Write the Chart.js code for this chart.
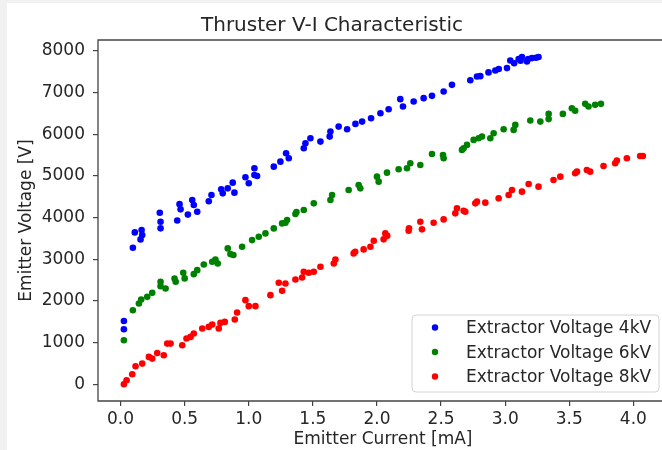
<!DOCTYPE html>
<html>
<head>
<meta charset="utf-8">
<script src="https://cdn.jsdelivr.net/npm/chart.js@4.4.1/dist/chart.umd.min.js"></script>
<style>
  html, body { margin: 0; padding: 0; width: 662px; height: 450px; overflow: hidden; background: #f1f1f1; }
  #panel { position: absolute; left: 7px; top: 3px; width: 655px; height: 447px; background: #fff; }
  #clip { position: absolute; left: 0; top: 0; width: 662px; height: 450px; overflow: hidden; }
  #thruster { position: absolute; left: 0; top: 0; }
</style>
</head>
<body>
<div id="panel"></div>
<div id="clip"><canvas id="thruster" width="680" height="450"></canvas></div>
<script>
// emitter current [mA] / emitter voltage [V] for each extractor setting
const current4kV = [0.026, 0.026, 0.096, 0.111, 0.156, 0.164, 0.169, 0.306, 0.312, 0.312, 0.442, 0.46, 0.468, 0.525, 0.559, 0.571, 0.598, 0.688, 0.709, 0.785, 0.797, 0.836, 0.875, 0.888, 0.974, 1.0, 1.044, 1.044, 1.065, 1.195, 1.247, 1.291, 1.312, 1.429, 1.442, 1.481, 1.559, 1.631, 1.637, 1.701, 1.767, 1.832, 1.884, 1.954, 2.027, 2.091, 2.182, 2.203, 2.286, 2.364, 2.429, 2.52, 2.585, 2.728, 2.78, 2.806, 2.87, 2.923, 2.95, 3.014, 3.04, 3.07, 3.105, 3.12, 3.131, 3.17, 3.18, 3.209, 3.24, 3.26];
const voltage4kV = [1520, 1320, 3274, 3643, 3475, 3700, 3579, 4115, 3899, 3740, 3930, 4320, 4196, 4070, 4420, 4300, 4140, 4390, 4540, 4676, 4580, 4700, 4836, 4596, 4965, 4820, 5181, 5020, 4996, 5220, 5340, 5541, 5421, 5661, 5781, 5901, 5820, 5940, 6060, 6180, 6117, 6245, 6300, 6381, 6502, 6598, 6838, 6661, 6781, 6862, 6918, 7022, 7182, 7290, 7382, 7390, 7480, 7526, 7560, 7583, 7766, 7700, 7800, 7760, 7850, 7742, 7800, 7823, 7830, 7850];

const current6kV = [0.026, 0.096, 0.143, 0.161, 0.208, 0.247, 0.312, 0.312, 0.351, 0.421, 0.43, 0.489, 0.5, 0.571, 0.598, 0.649, 0.715, 0.74, 0.758, 0.836, 0.857, 0.88, 0.948, 1.026, 1.078, 1.13, 1.195, 1.26, 1.286, 1.299, 1.364, 1.372, 1.429, 1.507, 1.637, 1.65, 1.779, 1.857, 1.87, 2.0, 2.013, 2.078, 2.169, 2.234, 2.26, 2.338, 2.429, 2.515, 2.52, 2.663, 2.676, 2.702, 2.754, 2.793, 2.819, 2.884, 2.91, 2.988, 3.066, 3.079, 3.196, 3.274, 3.339, 3.339, 3.45, 3.52, 3.546, 3.624, 3.65, 3.702, 3.747];
const voltage6kV = [1057, 1777, 1938, 2034, 2098, 2194, 2457, 2354, 2298, 2539, 2460, 2674, 2540, 2642, 2738, 2875, 2938, 2995, 2899, 3259, 3123, 3100, 3298, 3459, 3538, 3619, 3739, 3859, 3875, 3939, 4083, 4130, 4180, 4340, 4420, 4540, 4660, 4780, 4700, 4980, 4860, 5076, 5157, 5181, 5301, 5261, 5525, 5501, 5420, 5621, 5661, 5741, 5861, 5901, 5940, 5901, 6022, 6117, 6101, 6221, 6325, 6300, 6485, 6360, 6485, 6622, 6560, 6726, 6661, 6702, 6726];

const current8kV = [0.026, 0.047, 0.091, 0.117, 0.169, 0.221, 0.247, 0.286, 0.337, 0.364, 0.39, 0.481, 0.514, 0.546, 0.571, 0.637, 0.688, 0.715, 0.766, 0.779, 0.813, 0.891, 0.909, 0.974, 1.0, 1.052, 1.169, 1.234, 1.26, 1.286, 1.364, 1.416, 1.429, 1.468, 1.507, 1.559, 1.663, 1.676, 1.818, 1.83, 1.896, 1.949, 1.975, 2.052, 2.065, 2.08, 2.247, 2.25, 2.338, 2.351, 2.442, 2.52, 2.611, 2.624, 2.676, 2.689, 2.767, 2.78, 2.845, 2.949, 3.027, 3.053, 3.131, 3.183, 3.26, 3.377, 3.43, 3.546, 3.56, 3.637, 3.663, 3.767, 3.858, 3.871, 3.949, 4.053, 4.074];
const voltage8kV = [0, 96, 240, 432, 497, 657, 617, 752, 697, 977, 977, 937, 1097, 1137, 1217, 1338, 1377, 1433, 1338, 1473, 1497, 1553, 1722, 2018, 1874, 1874, 2138, 2434, 2242, 2418, 2514, 2562, 2698, 2674, 2698, 2818, 2899, 2995, 3139, 3180, 3235, 3298, 3442, 3476, 3619, 3560, 3682, 3740, 3899, 3716, 3875, 3955, 4100, 4220, 4163, 4139, 4340, 4380, 4356, 4460, 4540, 4660, 4620, 4805, 4740, 4900, 4980, 5060, 5100, 5141, 5100, 5237, 5301, 5365, 5421, 5477, 5477];

const seriesLabels = ['Extractor Voltage 4kV', 'Extractor Voltage 6kV', 'Extractor Voltage 8kV'];
const xTicks = [0, 0.5, 1.0, 1.5, 2.0, 2.5, 3.0, 3.5, 4.0];
const yTicks = [0, 1000, 2000, 3000, 4000, 5000, 6000, 7000, 8000];

const toPoints = (xs, ys) => xs.map((x, i) => ({ x: x, y: ys[i] }));

const FONT = 'DejaVu Sans';
const INK = '#262626';

// spines (right one runs off the page), title and the lower-right legend box
const decorations = {
    id: 'decorations',
    beforeDatasetsDraw(chart) {
        const { ctx, chartArea: a } = chart;
        ctx.save();
        ctx.strokeStyle = '#444';
        ctx.lineWidth = 1.3;
        ctx.beginPath();
        ctx.moveTo(chart.width, a.top);
        ctx.lineTo(a.left, a.top);
        ctx.lineTo(a.left, a.bottom);
        ctx.lineTo(chart.width, a.bottom);
        ctx.stroke();
        ctx.restore();
    },
    afterDraw(chart) {
        const ctx = chart.ctx;
        ctx.save();
        ctx.fillStyle = INK;
        ctx.font = '20px "' + FONT + '"';
        ctx.textAlign = 'center';
        ctx.textBaseline = 'alphabetic';
        ctx.fillText('Thruster V-I Characteristic', 332, 31);

        // legend
        const bx = 412, by = 315, bw = 247, bh = 77;
        ctx.beginPath();
        ctx.roundRect(bx, by, bw, bh, 4);
        ctx.fillStyle = 'rgba(255,255,255,0.85)';
        ctx.fill();
        ctx.strokeStyle = '#d4d4d4';
        ctx.lineWidth = 1;
        ctx.stroke();

        ctx.font = '17px "' + FONT + '"';
        ctx.textAlign = 'left';
        ctx.textBaseline = 'middle';
        chart.data.datasets.forEach((ds, i) => {
            const y = 328 + i * 24.5;
            ctx.beginPath();
            ctx.arc(435, y - 0.5, 3.2, 0, Math.PI * 2);
            ctx.fillStyle = ds.backgroundColor;
            ctx.fill();
            ctx.fillStyle = INK;
            ctx.fillText(ds.label, 466, y + 1);
        });
        ctx.restore();
    }
};

const ctx = document.getElementById('thruster');

new Chart(ctx, {
    type: 'scatter',
    data: {
        datasets: [{
            label: seriesLabels[0],
            data: toPoints(current4kV, voltage4kV),
            backgroundColor: '#0000ff'
        }, {
            label: seriesLabels[1],
            data: toPoints(current6kV, voltage6kV),
            backgroundColor: '#008000'
        }, {
            label: seriesLabels[2],
            data: toPoints(current8kV, voltage8kV),
            backgroundColor: '#ff0000'
        }]
    },
    options: {
        responsive: false,
        animation: false,
        devicePixelRatio: 1,
        layout: { padding: { left: 0, top: 40, right: 12, bottom: 0 } },
        elements: { point: { radius: 3.3, borderWidth: 0, hoverRadius: 3.3 } },
        plugins: {
            legend: { display: false },
            title: { display: false },
            tooltip: { enabled: false }
        },
        scales: {
            x: {
                type: 'linear',
                min: -0.176,
                max: 4.27,
                afterFit: (s) => { s.height = 49; },
                afterBuildTicks: (s) => { s.ticks = xTicks.map(v => ({ value: v })); },
                border: { display: false },
                grid: { drawOnChartArea: false, drawTicks: true, tickLength: 5, tickColor: '#444', lineWidth: 1.2 },
                ticks: {
                    color: INK,
                    font: { family: FONT, size: 17 },
                    padding: 3,
                    maxRotation: 0,
                    callback: (v) => v.toFixed(1)
                },
                title: {
                    display: true,
                    text: 'Emitter Current [mA]',
                    color: INK,
                    font: { family: FONT, size: 17 },
                    padding: 0
                }
            },
            y: {
                type: 'linear',
                min: -400,
                max: 8257,
                afterFit: (s) => { s.width = 98; },
                afterBuildTicks: (s) => { s.ticks = yTicks.map(v => ({ value: v })); },
                border: { display: false },
                grid: { drawOnChartArea: false, drawTicks: true, tickLength: 5, tickColor: '#444', lineWidth: 1.2 },
                ticks: {
                    color: INK,
                    font: { family: FONT, size: 17 },
                    padding: 8,
                    callback: (v) => String(v)
                },
                title: {
                    display: true,
                    text: 'Emitter Voltage [V]',
                    color: INK,
                    font: { family: FONT, size: 17 },
                    padding: { top: 16, bottom: 0 }
                }
            }
        }
    },
    plugins: [decorations]
});
</script>
</body>
</html>
